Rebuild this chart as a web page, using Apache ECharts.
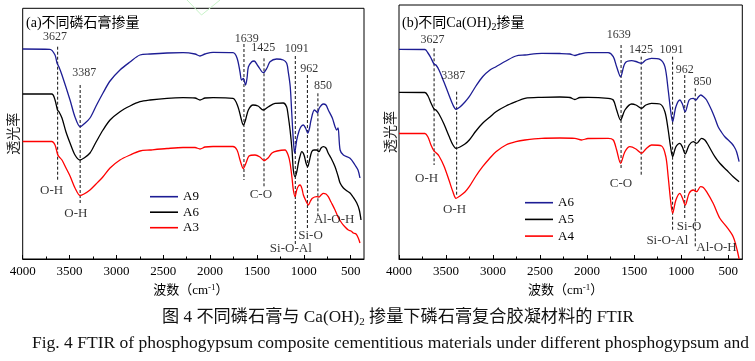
<!DOCTYPE html>
<html><head><meta charset="utf-8">
<script src="https://cdn.jsdelivr.net/npm/echarts@6/dist/echarts.min.js"></script>
<style>html,body{margin:0;padding:0;background:#fff}#c{width:755px;height:361px}</style>
</head><body><div id="c"></div>
<script>
// ---------- Data (wavenumber cm-1, transmittance a.u.) ----------
// Panel (a) different phosphogypsum dosage
const A9 = [[4000,210],[3709,209.7],[3655,204],[3634,196],[3613,192],[3581,184],[3495,159],[3442,142],[3388,132.3],[3346,135],[3282,141],[3217,153],[3143,166],[3068,178],[2962,189],[2855,197],[2749,204],[2641,205],[2460,206],[2289,206.3],[2161,205],[2108,203],[2054,205],[1969,206.7],[1756,206.3],[1713,201],[1681,187],[1665,179],[1646,180.5],[1622,174],[1606,181],[1592,192],[1556,197.3],[1531,198],[1489,193],[1432,186.3],[1393,191],[1361,197.3],[1290,200],[1219,199],[1183,195.7],[1166,187],[1145,172.3],[1129,146],[1112,119],[1098,106],[1076,119],[1051,128],[1030,132.3],[1005,134],[982,131],[958,126],[939,131],[923,139],[888,149],[863,147.3],[854,146],[835,151],[792,155],[764,154],[739,149],[696,141],[667,132.3],[649,129],[635,131],[613,109],[578,104],[507,100.7],[454,94],[422,89],[401,81]];
const A6a = [[4000,165],[3690,165],[3655,159],[3629,149],[3613,147.3],[3581,141],[3538,127],[3495,116],[3442,104],[3388,99],[3346,101],[3282,106],[3217,117],[3143,129],[3068,139],[2962,147.3],[2855,153],[2749,157.3],[2641,159],[2460,160.7],[2289,161.3],[2161,161],[2108,159],[2054,161],[1969,161.3],[1756,160.7],[1703,152.3],[1671,141],[1646,134],[1622,139],[1592,149],[1542,154],[1489,153],[1432,149],[1382,152],[1307,155.7],[1219,156],[1183,152],[1168,144],[1147,129],[1126,109],[1112,89],[1094,82.3],[1076,87],[1058,96],[1040,103],[1022,107.3],[998,104],[977,96],[959,92.3],[939,99],[916,107.3],[891,109],[863,109],[838,107.3],[816,111],[792,112.3],[764,111],[739,105.7],[710,101],[667,92.3],[635,83],[613,76],[578,71],[539,68],[507,66],[475,62],[435,56],[408,49],[390,39]];
const A3 = [[4000,117.5],[3690,117.5],[3655,114],[3629,105],[3613,102.3],[3581,99],[3538,91],[3495,83],[3442,71],[3388,63.5],[3346,65],[3282,69],[3217,75],[3143,82.3],[3068,91],[2962,99],[2855,104],[2749,108],[2641,109],[2460,110.5],[2289,111.5],[2161,111.5],[2108,110],[2054,112],[1969,112.5],[1756,112.5],[1713,109],[1681,99],[1646,90.5],[1617,96],[1585,103],[1521,104],[1468,102],[1425,98.5],[1382,101],[1340,106],[1286,108],[1201,109],[1168,104],[1147,96],[1126,81],[1112,69],[1094,62.3],[1076,69],[1057,73],[1040,74],[1019,70],[1005,64],[977,58],[952,54],[929,58],[909,60.7],[863,62.3],[838,62],[816,64],[792,65.7],[764,65],[739,62.3],[710,57],[667,49],[635,42],[596,36],[560,32],[525,29],[496,28],[472,26],[443,25],[419,21],[401,16]];
// Panel (b) different Ca(OH)2 dosage
const A6b = [[4000,209.7],[3724,209.5],[3692,206],[3660,201],[3628,195],[3607,194],[3575,189],[3522,177],[3469,164],[3426,154],[3394,149.7],[3352,152],[3299,157],[3253,162.3],[3182,173],[3111,182.3],[3033,189],[2969,192.3],[2863,198],[2757,203],[2661,204],[2484,205.7],[2289,205.5],[2183,205],[2130,203.5],[2077,205],[1988,206.3],[1776,206.3],[1722,202.3],[1686,192.3],[1644,182.3],[1598,195.7],[1527,198.3],[1481,197.5],[1421,195.7],[1375,199],[1315,200.7],[1226,199.7],[1173,192.3],[1138,169],[1113,149],[1091,137.3],[1056,152.3],[1014,159],[987,155],[957,147.3],[915,159],[872,160.7],[844,159],[817,162],[791,164],[759,162],[730,159],[677,149],[642,141],[607,132.3],[573,127],[536,122.3],[464,115.7],[435,112],[411,107.3],[384,97.3]];
const A5 = [[4000,166.7],[3724,166.5],[3692,163],[3660,156],[3628,150],[3607,149],[3575,145],[3522,135],[3469,123],[3426,114],[3394,110.7],[3352,112],[3299,115],[3253,119],[3182,128],[3111,135.7],[3033,142],[2969,147.3],[2863,153],[2757,157.3],[2661,160.7],[2484,161.7],[2289,162],[2183,161.5],[2130,159.5],[2077,161.5],[1988,161.7],[1776,160.7],[1722,159],[1686,149],[1644,139],[1598,149],[1527,155],[1481,154],[1421,150.7],[1375,154],[1315,155.7],[1226,155],[1173,147.3],[1138,129],[1113,112.3],[1091,102.3],[1056,112.3],[1014,115.7],[987,112],[957,105],[915,114],[872,117.3],[836,115.7],[783,120.7],[748,119],[713,114],[642,102.3],[589,95.7],[518,89],[447,82.3],[384,77.3]];
const A4 = [[4000,125.5],[3724,125.5],[3692,122],[3660,114],[3628,108],[3607,106.3],[3575,103],[3522,93],[3469,79],[3426,67],[3394,60.7],[3352,63],[3299,67],[3253,72.3],[3182,83],[3111,92.3],[3033,101],[2969,107.3],[2863,114],[2757,117.3],[2661,119],[2484,120.7],[2289,121],[2130,120.7],[2059,119],[1991,120.5],[1776,120.7],[1722,119],[1686,109],[1644,95.7],[1598,107.3],[1545,112.3],[1481,110],[1421,105.7],[1375,110],[1315,114],[1208,113],[1163,102.3],[1138,82.3],[1113,59],[1091,45.7],[1056,59],[1014,65.7],[987,61],[957,54],[915,65.7],[872,69],[836,67.3],[794,72.3],[764,71.5],[730,67.3],[660,55.7],[589,40.7],[518,32.3],[447,22.3],[405,9],[384,0]];

// Peak positions and annotation texts
const peakWn = [3627, 3387, 1639, 1425, 1091, 962, 850];
const peakTopA = [212.3, 174, 215, 200.7, 203, 184, 165.7];
const peakBottomA = [77.3, 56, 79, 70.7, 15, 30.7, 43];
const peakTopB = [210.7, 167.3, 214, 202.3, 202.3, 184, 170.7];
const peakBottomB = [94, 62.3, 89, 84, 29, 39, 12.3];
const peakLabelPosA = [[3655,222.3],[3343,185.7],[1609,219.7],[1432,210.7],[1076,209.7],[942,190],[795,173]];
const peakLabelPosB = [[3644,219.5],[3423,182.8],[1664,224.3],[1426,209],[1102,209],[961,189.5],[772,176.8]];
const bondTexts = ['O-H', 'O-H', 'C-O', 'Si-O-Al', 'Si-O', 'Al-O-H'];
const bondPosA = [[3691,68.7],[3433,45.3],[1459,64],[1139,10.5],[929,23.2],[676,39]];
const bondPosB = [[3706,80.2],[3410,49],[1639,75.7],[1147,18.2],[916,32.3],[624,11]];

const majorTicks = [4000, 3500, 3000, 2500, 2000, 1500, 1000, 500];
const minorTicks = [3750, 3250, 2750, 2250, 1750, 1250, 750];

// ---------- Chart ----------
const FONT = '"Liberation Serif","Noto Sans CJK SC",serif';
const BLUE = '#1d1d94', BLACK = '#000000', RED = '#ff0000';
const chart = echarts.init(document.getElementById('c'), null, {renderer: 'canvas'});

function xAxes(grid, min, nameShift) {
  return [{
    type: 'value', gridIndex: grid, inverse: true, min: min, max: 4000, position: 'bottom',
    axisLine: {show: true, onZero: false, lineStyle: {color: '#000', width: 1}},
    axisTick: {show: true, inside: true, length: 4, customValues: majorTicks, lineStyle: {color: '#000'}},
    axisLabel: {show: true, customValues: majorTicks, formatter: v => String(v), color: '#000', fontSize: 13, fontFamily: FONT, margin: 6},
    splitLine: {show: false},
    name: '波数（cm{sup|-1}）', nameLocation: 'middle', nameGap: 22,
    nameTextStyle: {color: '#000', fontSize: 13, fontFamily: FONT, lineHeight: 16, padding: [0, nameShift, 0, 0],
      rich: {sup: {fontSize: 9, fontFamily: FONT, color: '#000', verticalAlign: 'top', lineHeight: 10}}}
  }, {
    type: 'value', gridIndex: grid, inverse: true, min: min, max: 4000, position: 'bottom',
    axisLine: {show: false, onZero: false},
    axisTick: {show: true, inside: true, length: 2.5, customValues: minorTicks, lineStyle: {color: '#000'}},
    axisLabel: {show: false}, splitLine: {show: false}
  }];
}
function yAxis(grid, max) {
  return {
    type: 'value', gridIndex: grid, min: 0, max: max,
    axisLine: {show: false}, axisTick: {show: false}, axisLabel: {show: false}, splitLine: {show: false},
    name: '透光率', nameLocation: 'middle', nameRotate: 90, nameGap: 1,
    nameTextStyle: {color: '#222', fontSize: 14, fontFamily: FONT}
  };
}
function curve(name, data, color, xi, yi) {
  return {type: 'line', name: name, data: data, xAxisIndex: xi, yAxisIndex: yi, symbol: 'none', showSymbol: false,
    smooth: 0.3, lineStyle: {color: color, width: 1.3}, itemStyle: {color: color}, z: 5, silent: true, clip: true};
}
function dashes(tops, bottoms, xi, yi) {
  return peakWn.map((w, i) => ({
    type: 'line', data: [[w, tops[i]], [w, bottoms[i]]], xAxisIndex: xi, yAxisIndex: yi, symbol: 'none',
    lineStyle: {color: '#111', width: 1, type: [3, 2]}, z: 2, silent: true
  }));
}
function texts(pos, labels, xi, yi, size) {
  return {
    type: 'scatter', xAxisIndex: xi, yAxisIndex: yi, symbolSize: 1, itemStyle: {color: 'rgba(0,0,0,0)'}, silent: true, z: 6,
    data: pos.map((p, i) => ({value: p, label: {formatter: String(labels[i])}})),
    label: {show: true, position: 'inside', color: '#000', fontSize: size, fontFamily: FONT}
  };
}
const legendBase = {orient: 'vertical', padding: 0, icon: 'rect', itemWidth: 28, itemHeight: 1.6,
  textStyle: {fontSize: 13, lineHeight: 14, fontFamily: FONT, color: '#000'}, selectedMode: false};

const option = {
  backgroundColor: '#fff',
  animation: false,
  grid: [
    {left: 22.7, top: 8.3, width: 341.3, height: 250.7, show: true, borderColor: '#000', borderWidth: 1, containLabel: false},
    {left: 399, top: 5, width: 343.3, height: 254, show: true, borderColor: '#000', borderWidth: 1, containLabel: false}
  ],
  xAxis: [...xAxes(0, 358, 5), ...xAxes(1, 350, 10)],
  yAxis: [yAxis(0, 250.7), yAxis(1, 254)],
  legend: [
    Object.assign({}, legendBase, {data: ['A9', 'A6', 'A3'], left: 150, top: 189.7, itemGap: 1.5}),
    Object.assign({}, legendBase, {data: ['A6 ', 'A5', 'A4'], left: 525, top: 195.7, itemGap: 2.7, formatter: n => n.trim()})
  ],
  series: [
    ...dashes(peakTopA, peakBottomA, 0, 0),
    ...dashes(peakTopB, peakBottomB, 2, 1),
    curve('A9', A9, BLUE, 0, 0),
    curve('A6', A6a, BLACK, 0, 0),
    curve('A3', A3, RED, 0, 0),
    curve('A6 ', A6b, BLUE, 2, 1),
    curve('A5', A5, BLACK, 2, 1),
    curve('A4', A4, RED, 2, 1),
    texts(peakLabelPosA, peakWn, 0, 0, 12),
    texts(peakLabelPosB, peakWn, 2, 1, 12),
    texts(bondPosA, bondTexts, 0, 0, 13),
    texts(bondPosB, bondTexts, 2, 1, 13)
  ],
  graphic: [
    {type: 'text', left: 26, top: 16, z: 10, style: {text: '(a)不同磷石膏掺量', fontSize: 14, fontFamily: FONT, fill: '#000'}},
    {type: 'text', left: 402, top: 14, z: 10, style: {text: '(b)不同Ca(OH){s|2}掺量', fontSize: 14, fontFamily: FONT, fill: '#000', lineHeight: 18,
      rich: {s: {fontSize: 10, fontFamily: FONT, fill: '#000', verticalAlign: 'bottom', lineHeight: 12}}}},
    {type: 'text', x: 398, y: 317, z: 10, style: {text: '图 4 不同磷石膏与 Ca(OH){s|2} 掺量下磷石膏复合胶凝材料的 FTIR', fontSize: 17.2, fontFamily: FONT,
      fill: '#111', align: 'center', verticalAlign: 'middle', lineHeight: 22,
      rich: {s: {fontSize: 11, fontFamily: FONT, fill: '#111', verticalAlign: 'bottom', lineHeight: 14}}}},
    {type: 'text', x: 32, y: 343, z: 10, style: {text: 'Fig. 4 FTIR of phosphogypsum composite cementitious materials under different phosphogypsum and',
      fontSize: 17.5, fontFamily: FONT, fill: '#111', align: 'left', verticalAlign: 'middle'}},
    {type: 'polyline', z: 1, silent: true, shape: {points: [[187, 0], [201.5, 15], [220, 0]]}, style: {stroke: '#c8f3c8', lineWidth: 1, fill: null}}
  ]
};
chart.setOption(option);
</script>
</body></html>
